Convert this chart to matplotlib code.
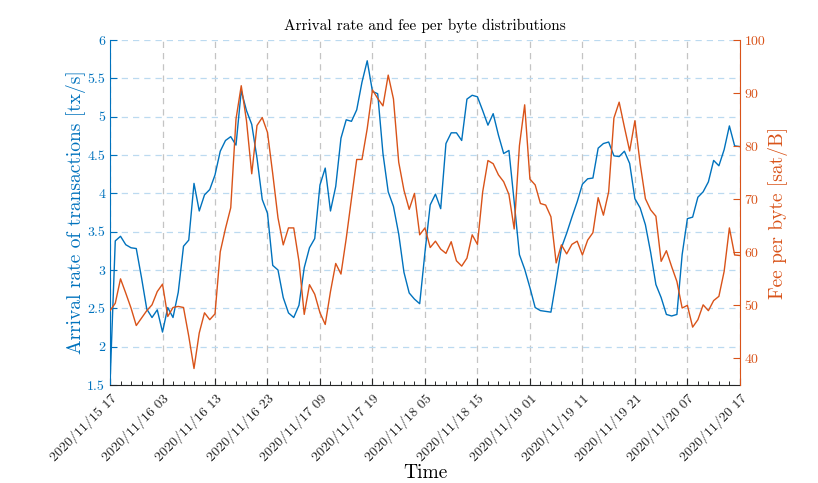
import matplotlib
matplotlib.use('Agg')
import matplotlib.pyplot as plt
import matplotlib.dates as mdates
from matplotlib.ticker import MultipleLocator, FuncFormatter
import pandas as pd

# hourly samples, 2020/11/15 17:00 .. 2020/11/20 17:00
start = '2020-11-15 17:00'
n_hours = 121

arrival_rate = [
    1.52, 3.38, 3.44, 3.33, 3.29, 3.28, 2.90, 2.49, 2.38, 2.48,
    2.19, 2.51, 2.38, 2.71, 3.31, 3.39, 4.13, 3.77, 3.98, 4.05,
    4.24, 4.55, 4.69, 4.74, 4.63, 5.34, 5.08, 4.90, 4.46, 3.92,
    3.74, 3.06, 3.00, 2.64, 2.44, 2.38, 2.54, 3.03, 3.29, 3.41,
    4.11, 4.33, 3.77, 4.09, 4.72, 4.96, 4.94, 5.09, 5.45, 5.73,
    5.33, 5.30, 4.52, 4.02, 3.83, 3.47, 2.97, 2.70, 2.62, 2.56,
    3.23, 3.85, 3.99, 3.80, 4.65, 4.79, 4.79, 4.69, 5.23, 5.28,
    5.26, 5.08, 4.89, 5.04, 4.76, 4.52, 4.56, 3.89, 3.20, 3.01,
    2.77, 2.51, 2.47, 2.46, 2.45, 2.86, 3.29, 3.48, 3.69, 3.89,
    4.12, 4.19, 4.20, 4.59, 4.65, 4.67, 4.49, 4.48, 4.55, 4.39,
    3.93, 3.81, 3.59, 3.23, 2.81, 2.64, 2.42, 2.40, 2.42, 3.20,
    3.67, 3.69, 3.95, 4.02, 4.15, 4.43, 4.36, 4.57, 4.88, 4.62,
    4.61,
]

fee_per_byte = [
    49.0, 50.4, 55.0, 52.3, 49.5, 46.2, 47.6, 49.0, 50.1, 52.6,
    54.0, 47.9, 49.6, 49.8, 49.6, 44.2, 38.1, 44.8, 48.6, 47.3,
    48.4, 60.1, 64.5, 68.4, 85.1, 91.4, 84.8, 74.8, 83.9, 85.4,
    82.6, 74.8, 66.5, 61.4, 64.6, 64.6, 58.3, 48.3, 53.9, 52.1,
    48.6, 46.4, 52.6, 57.9, 55.9, 62.6, 70.1, 77.5, 77.5, 83.3,
    90.6, 89.0, 87.6, 93.4, 88.9, 77.0, 71.7, 68.1, 71.1, 63.3,
    64.6, 60.9, 62.1, 60.6, 59.8, 62.0, 58.4, 57.4, 58.9, 63.3,
    61.5, 71.4, 77.3, 76.7, 74.6, 73.3, 70.9, 64.4, 80.1, 87.8,
    73.8, 72.7, 69.2, 68.9, 66.7, 58.0, 61.4, 59.7, 61.5, 62.1,
    59.5, 62.3, 63.7, 70.3, 67.0, 71.4, 85.3, 88.3, 83.6, 79.1,
    84.8, 76.7, 70.1, 68.0, 66.8, 58.3, 60.3, 57.3, 54.5, 49.5,
    50.0, 45.9, 47.3, 50.1, 49.0, 50.9, 51.7, 56.4, 64.6, 59.5,
    59.4,
]

times = pd.date_range(start, periods=n_hours, freq='h')

BLUE = '#0072BD'
ORANGE = '#D95319'

plt.rcParams['font.family'] = ['cmr10', 'DejaVu Serif']
plt.rcParams['axes.formatter.use_mathtext'] = True

fig = plt.figure(figsize=(8.18, 4.83), dpi=100)
ax = fig.add_axes([0.1345, 0.203, 0.770, 0.714])
ax2 = ax.twinx()

ax.plot(times, arrival_rate, color=BLUE, lw=1.0, zorder=3)
ax2.plot(times, fee_per_byte, color=ORANGE, lw=1.0)

ax.set_xlim(times[0], times[-1])
ax.set_ylim(1.5, 6)
ax2.set_ylim(35, 100)

# x axis: major every 10 h, minor every 2 h
ax.set_xticks(times[::10])
ax.xaxis.set_major_formatter(mdates.DateFormatter('%Y/%m/%d %H'))
ax.xaxis.set_minor_locator(mdates.HourLocator(byhour=range(1, 24, 2)))
for lab in ax.get_xticklabels():
    lab.set_rotation(45)
    lab.set_ha('right')
    lab.set_rotation_mode('anchor')
    lab.set_fontsize(10)

ax.yaxis.set_major_locator(MultipleLocator(0.5))
ax.yaxis.set_major_formatter(FuncFormatter(lambda v, p: '%g' % v))
ax2.yaxis.set_major_locator(MultipleLocator(10))
ax2.yaxis.set_major_formatter(FuncFormatter(lambda v, p: '%g' % v))

ax.tick_params(axis='x', which='major', direction='in', length=5, width=0.8, colors='#262626', pad=5)
ax.tick_params(axis='x', which='minor', direction='in', length=3, width=0.7, colors='#262626')
ax.tick_params(axis='y', direction='in', length=5, width=0.8, colors=BLUE, labelsize=10)
ax2.tick_params(axis='y', direction='in', length=5, width=0.8, colors=ORANGE, labelsize=10)

ax.grid(axis='x', color='#c4c4c4', ls=(0, (5, 4)), lw=0.9)
ax.grid(axis='y', color='#bcdaf0', ls=(0, (5, 4)), lw=0.9)

for a in (ax, ax2):
    a.spines['top'].set_visible(False)
ax.spines['left'].set_color(BLUE)
ax.spines['right'].set_visible(False)
ax2.spines['left'].set_visible(False)
ax2.spines['right'].set_color(ORANGE)
ax2.spines['bottom'].set_visible(False)
ax.spines['bottom'].set_color('#262626')

ax.set_ylabel('Arrival rate of transactions [tx/s]', color=BLUE, fontsize=14, labelpad=1)
ax2.set_ylabel('Fee per byte [sat/B]', color=ORANGE, fontsize=14, labelpad=2)
ax.set_xlabel('Time', fontsize=14, labelpad=0)
ax.set_title('Arrival rate and fee per byte distributions', fontsize=11, pad=7)

fig.savefig('out.png', dpi=100)
